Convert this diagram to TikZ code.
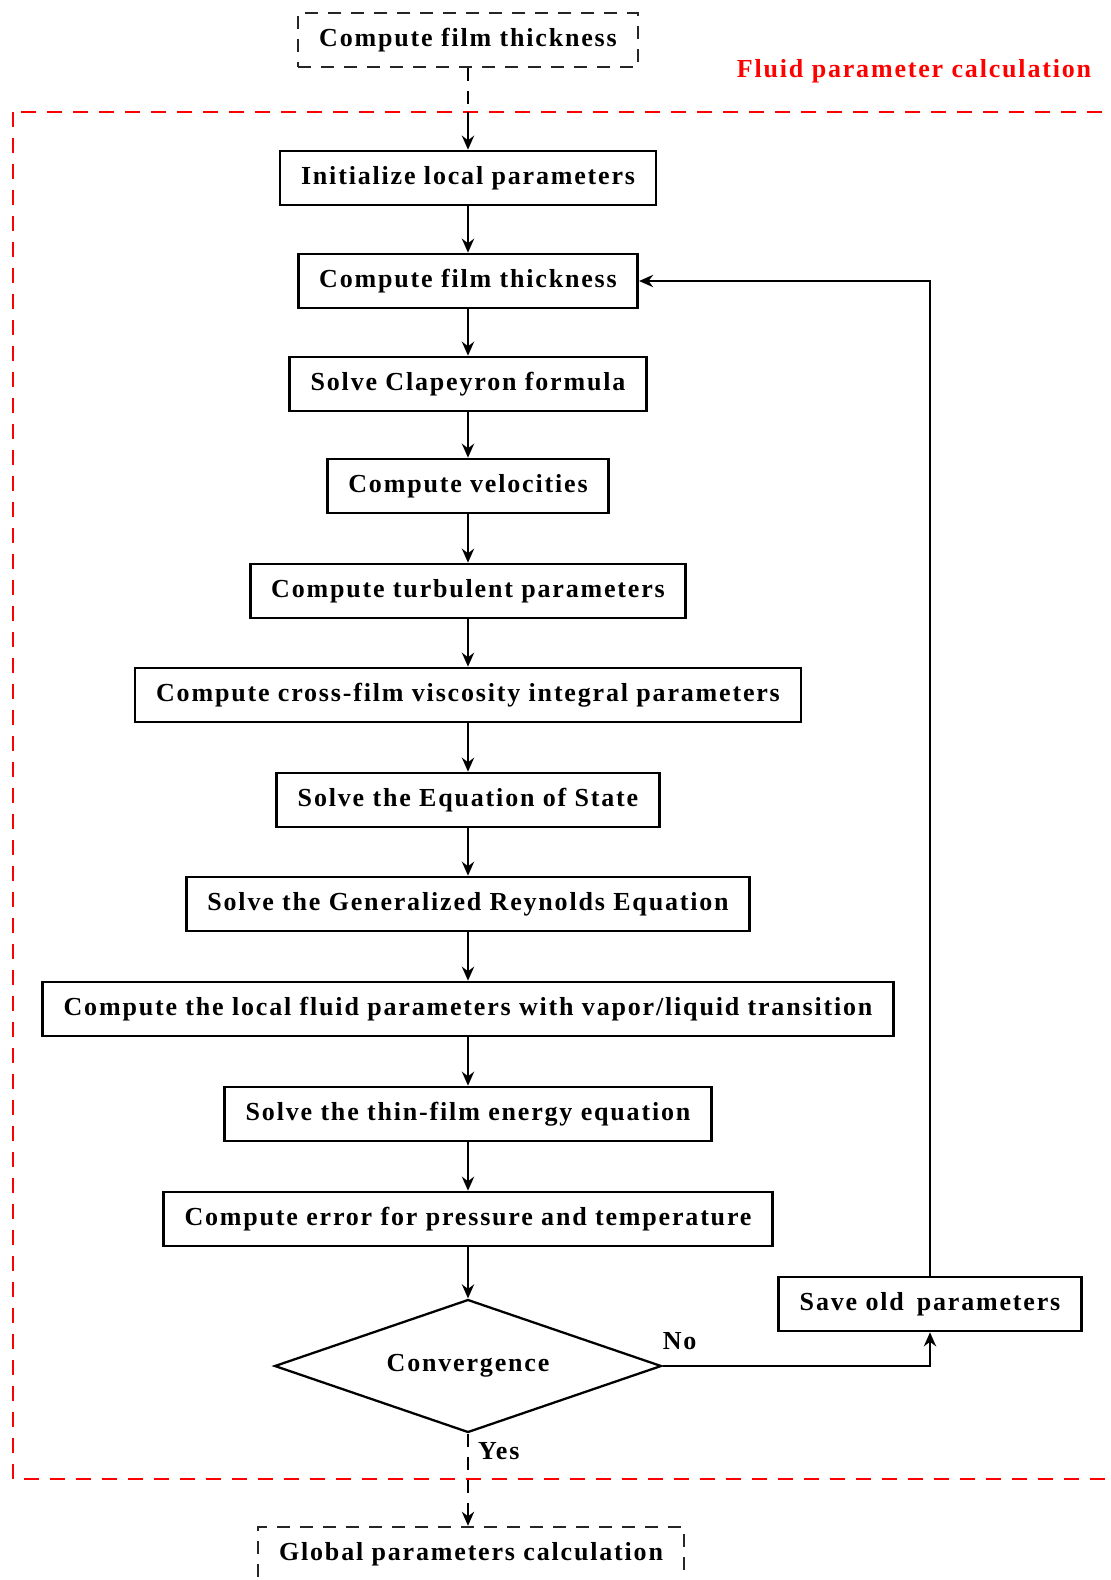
\documentclass[tikz,border=0pt]{standalone}
\usepackage{fontspec}
\setmainfont{Liberation Serif}
\usetikzlibrary{shapes.geometric,arrows.meta}

\begin{document}
\begin{tikzpicture}[x=0.02cm, y=-0.02cm,
    every node/.style = {font=\fontsize{14.8}{17}\selectfont\bfseries\addfontfeature{LetterSpace=7}},
    stepbox/.style = {shape=rectangle, draw, line width=1.5pt,
      minimum height=1.08cm, inner xsep=0.42cm},
    outbox/.style = {stepbox, line width=1.4pt, dash pattern=on 0.26cm off 0.2cm, draw=black!85},
    decide/.style = {shape=diamond, draw, line width=1.3pt, aspect=3,
      minimum width=7.74cm, minimum height=2.66cm, inner sep=0pt},
    flow/.style = {-{Stealth[length=8pt,width=7pt]}, line width=1.1pt},
    dflow/.style = {flow, dash pattern=on 0.26cm off 0.2cm}]
  \useasboundingbox (0,0) rectangle (1110,1580);
  \begin{scope}
    \clip (0,0) rectangle (1110,1580);
    % red frame of the fluid loop
    \draw[red, line width=1.5pt, dash pattern=on 0.3cm off 0.22cm]
      (13,112) rectangle (1140,1479);
    \node[outbox] (glob) at (471,1554) {Global parameters calculation};
  \end{scope}
  \node[text=red] (frame) at (914,71) {Fluid parameter calculation};

  \node[outbox] (film0) at (468,40) {Compute film thickness};
  \node[stepbox] (init) at (468,178) {Initialize local parameters};
  \node[stepbox] (film) at (468,281) {Compute film thickness};
  \node[stepbox] (clap) at (468,384) {Solve Clapeyron formula};
  \node[stepbox] (velo) at (468,486) {Compute velocities};
  \node[stepbox] (turb) at (468,591) {Compute turbulent parameters};
  \node[stepbox] (visc) at (468,695) {Compute cross-film viscosity integral parameters};
  \node[stepbox] (eos) at (468,800) {Solve the Equation of State};
  \node[stepbox] (reyn) at (468,904) {Solve the Generalized Reynolds Equation};
  \node[stepbox] (local) at (468,1009) {Compute the local fluid parameters with vapor/liquid transition};
  \node[stepbox] (ener) at (468,1114) {Solve the thin-film energy equation};
  \node[stepbox] (err) at (468,1219) {Compute error for pressure and temperature};
  \node[decide] (conv) at (468,1366) {Convergence};
  \node[stepbox] (save) at (930,1304) {Save old\enspace parameters};

  \coordinate (enter) at (468,112);
  \draw[line width=1.1pt, dash pattern=on 0.26cm off 0.2cm] (film0) -- (enter);
  \draw[flow] (enter) -- (init);
  \foreach \a/\b in {init/film, film/clap, clap/velo, velo/turb, turb/visc,
                     visc/eos, eos/reyn, reyn/local, local/ener, ener/err, err/conv}
    \draw[flow] (\a) -- (\b);
  \draw[flow] (conv.east) -| (save.south);
  \node[anchor=south west] (no) at ([shift={(-6,-10)}]conv.east) {No};
  \draw[flow] (save.north) |- (film.east);
  \draw[dflow] (conv.south) -- (conv.south |- glob.north);
  \node[anchor=west] (yes) at ([shift={(4,17)}]conv.south) {Yes};
\end{tikzpicture}
\end{document}
